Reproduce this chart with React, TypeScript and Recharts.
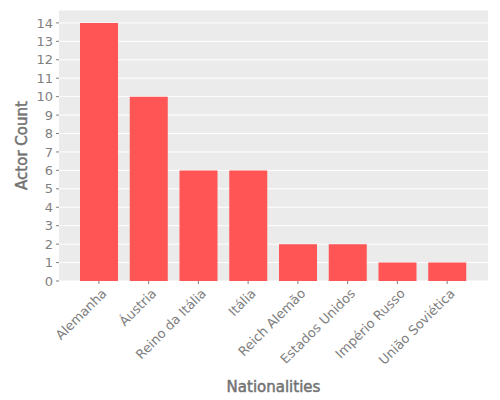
import { BarChart, Bar, XAxis, YAxis, CartesianGrid } from 'recharts';

const nationalities = [
  'Alemanha',
  'Áustria',
  'Reino da Itália',
  'Itália',
  'Reich Alemão',
  'Estados Unidos',
  'Império Russo',
  'União Soviética',
];
const actorCounts = [14, 10, 6, 6, 2, 2, 1, 1];
const yTicks = [0, 1, 2, 3, 4, 5, 6, 7, 8, 9, 10, 11, 12, 13, 14];

const data = nationalities.map((name, i) => ({ name, count: actorCounts[i] }));

const grey = '#7f7f7f';
const font = 'DejaVu Sans, sans-serif';

function AngledTick(props: any) {
  const { x, y, payload } = props;
  return (
    <g transform={`translate(${x},${y + 4})`}>
      <text
        transform="rotate(-45)"
        textAnchor="end"
        dy={9}
        dx={3}
        fill={grey}
        fontSize={13}
        fontFamily={font}
      >
        {payload.value}
      </text>
    </g>
  );
}

export default function App() {
  return (
    <div style={{ position: 'absolute', left: 0, top: 0, background: '#fff' }}>
      <BarChart
        width={500}
        height={400}
        data={data}
        margin={{ top: 10, right: 12, left: 0, bottom: 0 }}
        barSize={38}
      >
        <CartesianGrid fill="#EBEBEB" stroke="#ffffff" vertical={false} />
        <XAxis
          dataKey="name"
          height={119}
          interval={0}
          padding={{ left: 15, right: 16 }}
          axisLine={false}
          tickLine={{ stroke: grey }}
          tickSize={3}
          tick={<AngledTick />}
          label={{
            value: 'Nationalities',
            position: 'insideBottom',
            offset: 8,
            fill: '#737373',
            stroke: '#737373',
            strokeWidth: 0.5,
            fontSize: 15,
            fontFamily: font,
          }}
        />
        <YAxis
          width={59}
          domain={[0, 14.7]}
          ticks={yTicks}
          interval={0}
          axisLine={false}
          tickLine={{ stroke: grey }}
          tickSize={3}
          tickMargin={3}
          tick={{ fill: grey, fontSize: 13, fontFamily: font }}
          label={{
            value: 'Actor Count',
            angle: -90,
            position: 'insideLeft',
            offset: 22,
            style: { textAnchor: 'middle' },
            fill: '#737373',
            stroke: '#737373',
            strokeWidth: 0.5,
            fontSize: 15,
            fontFamily: font,
          }}
        />
        <Bar dataKey="count" fill="#FF5555" isAnimationActive={false} />
      </BarChart>
    </div>
  );
}
